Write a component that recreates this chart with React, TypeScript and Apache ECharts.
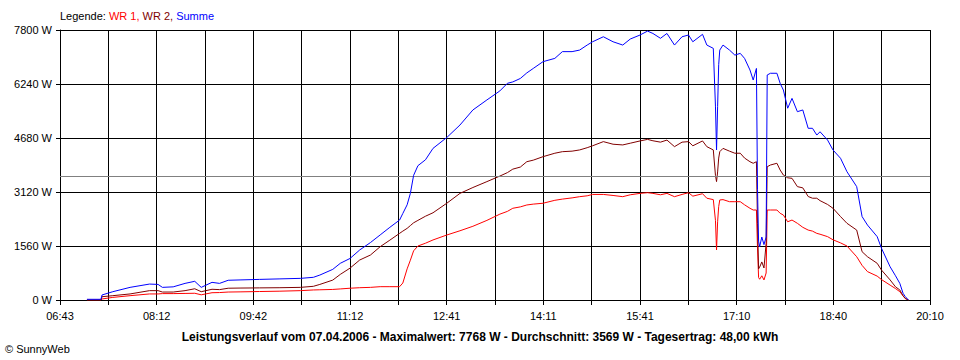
import React, { useEffect, useRef } from "react";
import * as echarts from "echarts";

const startTime = "06:43";
const endTime = "20:10";
const yTicks = [0, 1560, 3120, 4680, 6240, 7800];
const average = 3569;

const times = [
  "07:08","07:21","07:22","07:32","07:48","08:06","08:14","08:18","08:28","08:39",
  "08:48","08:54","09:04","09:11","09:19","09:30","09:48","10:07","10:26","10:38",
  "10:44","10:56","11:03","11:12","11:21","11:31","11:40","11:49","11:58","12:01",
  "12:05","12:08","12:11","12:15","12:22","12:29","12:42","12:54","13:06","13:19",
  "13:31","13:38","13:43","13:50","13:56","14:02","14:11","14:22","14:29","14:38",
  "14:45","14:52","14:57","15:07","15:16","15:25","15:32","15:41","15:48","15:53",
  "16:00","16:06","16:13","16:20","16:26","16:30","16:39","16:43","16:49","16:51",
  "16:52","16:53","16:54","16:55","16:58","17:04","17:09","17:14","17:18","17:23",
  "17:26","17:29","17:30","17:31","17:32","17:34","17:36","17:38","17:39","17:42",
  "17:48","17:51","17:54","17:58","18:02","18:07","18:12","18:17","18:21","18:25",
  "18:28","18:35","18:40","18:47","18:53","19:02","19:07","19:12","19:21","19:25",
  "19:33","19:38","19:42","19:45","19:47","19:50"
];

const wr1 = [
  0,0,30,75,125,175,175,185,185,190,
  195,150,210,215,230,235,245,255,270,290,
  295,305,320,340,355,365,385,385,385,490,
  900,1150,1420,1560,1640,1735,1880,2000,2130,2300,
  2480,2560,2650,2690,2745,2770,2795,2880,2915,2950,
  2985,3010,3050,3050,3020,2985,3040,3080,3100,3080,
  3040,3080,2985,3050,3100,3000,3070,2940,2900,2300,
  1445,2260,2700,2890,2900,2840,2840,2840,2750,2650,
  2600,2600,1500,650,600,700,580,780,2600,2600,
  2600,2505,2455,2260,2310,2215,2100,2020,1990,1925,
  1900,1830,1740,1650,1560,1250,1000,820,690,590,
  430,330,240,120,40,0
];

const wr2 = [
  0,0,95,125,175,270,270,230,230,270,
  325,240,310,300,340,345,350,355,365,395,
  450,575,740,920,1155,1300,1540,1730,1925,1990,
  2070,2150,2230,2300,2420,2520,2800,3080,3250,3420,
  3580,3680,3780,3840,3995,4040,4140,4240,4285,4300,
  4335,4400,4455,4575,4500,4480,4530,4595,4640,4600,
  4560,4620,4430,4560,4575,4455,4595,4430,4335,3600,
  3420,3700,4100,4285,4380,4300,4240,4240,4100,3995,
  3950,3995,2200,900,950,1100,925,1640,3850,3900,
  3950,3755,3610,3530,3515,3275,3240,2990,2940,2940,
  2870,2760,2650,2410,2215,2020,1395,1250,1060,865,
  580,380,290,120,50,0
];

const summe = [
  20,20,145,240,365,460,450,365,380,480,
  540,365,510,480,570,580,595,610,625,655,
  720,885,1060,1200,1445,1660,1880,2100,2310,2500,
  2750,3080,3600,3880,4050,4380,4700,5055,5490,5780,
  6040,6260,6300,6400,6560,6690,6885,6980,7175,7175,
  7220,7365,7460,7605,7460,7365,7540,7655,7768,7700,
  7560,7700,7365,7605,7655,7460,7675,7365,7270,5600,
  4335,5585,6800,7220,7365,7220,7075,7125,6980,6645,
  6355,6690,3200,1700,1540,1820,1600,1820,6500,6550,
  6550,6260,6065,5540,5825,5440,5490,4960,4960,4765,
  4860,4620,4335,4095,3705,3275,2410,2165,1830,1495,
  960,700,480,195,100,0
];

const toMin = (t: string) => {
  const [h, m] = t.split(":").map(Number);
  return h * 60 + m;
};
const pad = (n: number) => (n < 10 ? "0" + n : "" + n);

export default function App() {
  const ref = useRef<HTMLDivElement>(null);

  useEffect(() => {
    if (!ref.current) return;
    const chart = echarts.init(ref.current, undefined, { renderer: "svg" });
    const t0 = toMin(startTime);
    const span = (toMin(endTime) - t0) * 60; // seconds
    const step = span / 18;
    const toPts = (vals: number[]) =>
      times.map((t, i) => [(toMin(t) - t0) * 60, vals[i]]);
    const font = "'Liberation Sans', Arial, sans-serif";

    chart.setOption({
      animation: false,
      backgroundColor: "#ffffff",
      grid: { left: 60, right: 30, top: 30, bottom: 60 },
      xAxis: {
        type: "value",
        min: 0,
        max: span,
        interval: step,
        axisLine: { show: true, lineStyle: { color: "#000", width: 1 } },
        axisTick: { show: true, length: 5, lineStyle: { color: "#000" } },
        splitLine: { show: true, lineStyle: { color: "#000", width: 1 } },
        axisLabel: {
          color: "#000",
          fontFamily: font,
          fontSize: 11,
          margin: 10,
          showMinLabel: true,
          showMaxLabel: true,
          formatter: (v: number) => {
            const idx = Math.round(v / step);
            if (idx % 2 !== 0) return "";
            const m = Math.floor(t0 + v / 60 + 1e-6);
            return pad(Math.floor(m / 60)) + ":" + pad(m % 60);
          },
        },
      },
      yAxis: {
        type: "value",
        min: yTicks[0],
        max: yTicks[yTicks.length - 1],
        interval: yTicks[1] - yTicks[0],
        axisLine: { show: true, lineStyle: { color: "#000", width: 1 } },
        axisTick: { show: true, length: 4, lineStyle: { color: "#000" } },
        splitLine: { show: true, lineStyle: { color: "#000", width: 1 } },
        axisLabel: {
          color: "#000",
          fontFamily: font,
          fontSize: 11,
          margin: 8,
          formatter: (v: number) => v + " W",
        },
      },
      series: [
        {
          name: "WR 1",
          type: "line",
          data: toPts(wr1),
          showSymbol: false,
          lineStyle: { color: "#ff0000", width: 1 },
          itemStyle: { color: "#ff0000" },
          markLine: {
            silent: true,
            symbol: "none",
            label: { show: false },
            lineStyle: { color: "#808080", type: "solid", width: 1 },
            data: [{ yAxis: average }],
          },
          z: 3,
        },
        {
          name: "WR 2",
          type: "line",
          data: toPts(wr2),
          showSymbol: false,
          lineStyle: { color: "#800000", width: 1 },
          itemStyle: { color: "#800000" },
          z: 4,
        },
        {
          name: "Summe",
          type: "line",
          data: toPts(summe),
          showSymbol: false,
          lineStyle: { color: "#0000ff", width: 1 },
          itemStyle: { color: "#0000ff" },
          z: 5,
        },
      ],
      graphic: [
        {
          type: "text",
          left: 60,
          top: 10,
          style: {
            text: "{a|Legende: }{b|WR 1, }{c|WR 2, }{d|Summe}",
            font: "11px " + font,
            rich: {
              a: { fill: "#000", fontSize: 11, fontFamily: font },
              b: { fill: "#ff0000", fontSize: 11, fontFamily: font },
              c: { fill: "#800000", fontSize: 11, fontFamily: font },
              d: { fill: "#0000ff", fontSize: 11, fontFamily: font },
            },
          },
        },
        {
          type: "text",
          x: 480,
          y: 337,
          style: {
            text:
              "Leistungsverlauf vom 07.04.2006 - Maximalwert: 7768 W - Durchschnitt: 3569 W - Tagesertrag: 48,00 kWh",
            font: "bold 12px " + font,
            fill: "#000",
            textAlign: "center",
            textVerticalAlign: "middle",
          },
        },
        {
          type: "text",
          x: 5,
          y: 349,
          style: {
            text: "© SunnyWeb",
            font: "11px " + font,
            fill: "#000",
            textAlign: "left",
            textVerticalAlign: "middle",
          },
        },
      ],
    });

    return () => chart.dispose();
  }, []);

  return (
    <div
      ref={ref}
      style={{ position: "absolute", left: 0, top: 0, width: 960, height: 360 }}
    />
  );
}
